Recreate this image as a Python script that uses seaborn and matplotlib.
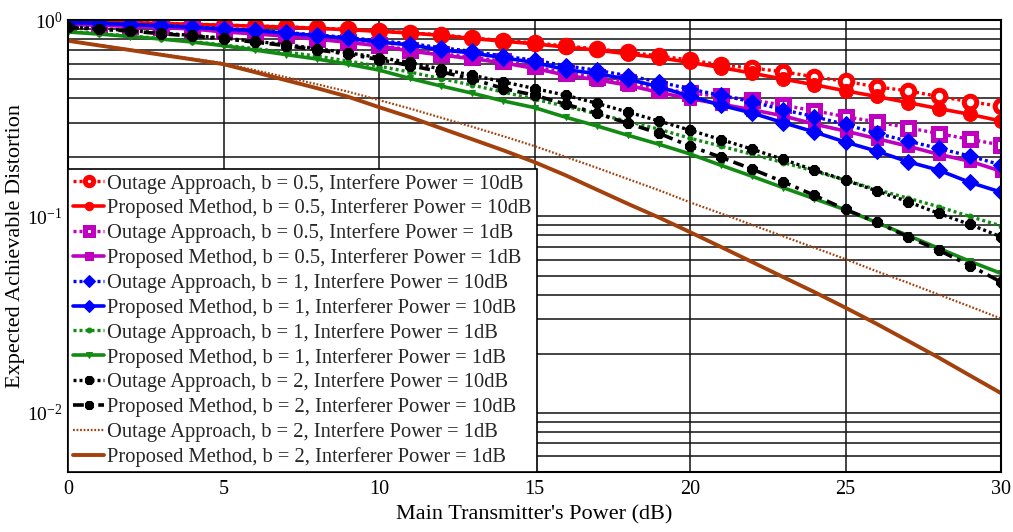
import numpy as np
import pandas as pd
import matplotlib
matplotlib.use("Agg")
import matplotlib.pyplot as plt
import seaborn as sns
from matplotlib.ticker import LogLocator, NullFormatter, FixedLocator

# ---------------- data ----------------
power_db = list(range(0, 31))

red_outage = [0.993, 0.983, 0.973, 0.963, 0.953, 0.943, 0.933, 0.923, 0.910, 0.895, 0.879,
              0.861, 0.840, 0.810, 0.786, 0.765, 0.737, 0.713, 0.685, 0.657, 0.625,
              0.591, 0.569, 0.545, 0.514, 0.487, 0.457, 0.436, 0.408, 0.384, 0.363]
red_proposed = [0.990, 0.980, 0.970, 0.960, 0.950, 0.940, 0.930, 0.920, 0.907, 0.892, 0.876,
                0.858, 0.835, 0.805, 0.780, 0.756, 0.728, 0.703, 0.672, 0.643, 0.608,
                0.573, 0.536, 0.500, 0.468, 0.436, 0.408, 0.380, 0.354, 0.331, 0.306]
mag_outage = [0.953, 0.943, 0.931, 0.918, 0.904, 0.875, 0.855, 0.834, 0.805, 0.777, 0.746,
              0.704, 0.673, 0.646, 0.617, 0.580, 0.538, 0.511, 0.482, 0.448, 0.425,
              0.408, 0.392, 0.368, 0.345, 0.322, 0.303, 0.283, 0.264, 0.247, 0.231]
mag_proposed = [0.950, 0.940, 0.928, 0.915, 0.900, 0.870, 0.850, 0.828, 0.798, 0.770, 0.738,
                0.695, 0.663, 0.635, 0.605, 0.567, 0.524, 0.496, 0.466, 0.428, 0.398,
                0.373, 0.349, 0.325, 0.295, 0.272, 0.249, 0.228, 0.207, 0.191, 0.170]
blue_outage = [0.972, 0.964, 0.951, 0.938, 0.922, 0.905, 0.887, 0.864, 0.839, 0.815, 0.784,
               0.758, 0.723, 0.692, 0.655, 0.624, 0.585, 0.555, 0.521, 0.484, 0.445,
               0.414, 0.383, 0.349, 0.322, 0.294, 0.265, 0.242, 0.222, 0.203, 0.183]
blue_proposed = [0.970, 0.962, 0.948, 0.935, 0.918, 0.900, 0.882, 0.858, 0.832, 0.807, 0.772,
                 0.747, 0.704, 0.679, 0.642, 0.608, 0.559, 0.533, 0.500, 0.457, 0.409,
                 0.368, 0.336, 0.300, 0.269, 0.239, 0.215, 0.190, 0.172, 0.149, 0.133]
green_outage = [0.874, 0.853, 0.829, 0.804, 0.777, 0.746, 0.715, 0.687, 0.655, 0.618, 0.582,
                0.543, 0.503, 0.466, 0.430, 0.395, 0.364, 0.333, 0.305, 0.278, 0.250,
                0.228, 0.207, 0.188, 0.170, 0.153, 0.137, 0.124, 0.112, 0.100, 0.0895]
green_proposed = [0.869, 0.848, 0.824, 0.800, 0.772, 0.740, 0.703, 0.667, 0.633, 0.596, 0.556,
                  0.504, 0.461, 0.424, 0.387, 0.358, 0.320, 0.289, 0.259, 0.233, 0.208,
                  0.182, 0.160, 0.140, 0.123, 0.108, 0.0932, 0.0801, 0.0688, 0.0591, 0.0513]
black_outage = [0.921, 0.903, 0.884, 0.858, 0.834, 0.809, 0.779, 0.750, 0.715, 0.681, 0.644,
                0.608, 0.562, 0.524, 0.484, 0.448, 0.414, 0.377, 0.340, 0.306, 0.275,
                0.246, 0.220, 0.195, 0.172, 0.153, 0.135, 0.119, 0.1036, 0.0910, 0.0788]
black_proposed = [0.916, 0.897, 0.879, 0.851, 0.829, 0.803, 0.772, 0.741, 0.705, 0.671, 0.629,
                  0.586, 0.545, 0.500, 0.448, 0.414, 0.373, 0.335, 0.298, 0.265, 0.228,
                  0.200, 0.174, 0.150, 0.128, 0.1086, 0.0935, 0.0788, 0.0673, 0.0562, 0.0464]
brown_outage = [0.786, 0.746, 0.707, 0.671, 0.636, 0.603, 0.556, 0.512, 0.471, 0.432, 0.391,
                0.354, 0.318, 0.286, 0.256, 0.228, 0.201, 0.177, 0.155, 0.136, 0.118,
                0.1035, 0.0906, 0.0792, 0.0693, 0.0606, 0.0526, 0.0460, 0.0400, 0.0348, 0.0302]
brown_proposed = [0.784, 0.742, 0.703, 0.665, 0.630, 0.596, 0.543, 0.494, 0.450, 0.407, 0.360,
                  0.320, 0.281, 0.247, 0.217, 0.189, 0.162, 0.137, 0.116, 0.0988, 0.0832,
                  0.0699, 0.0586, 0.0491, 0.0412, 0.0343, 0.0284, 0.0233, 0.0191, 0.0155, 0.0126]

labels = [
    "Outage Approach, b = 0.5, Interfere Power = 10dB",
    "Proposed Method, b = 0.5, Interferer Power = 10dB",
    "Outage Approach, b = 0.5, Interfere Power = 1dB",
    "Proposed Method, b = 0.5, Interferer Power = 1dB",
    "Outage Approach, b = 1, Interfere Power = 10dB",
    "Proposed Method, b = 1, Interferer Power = 10dB",
    "Outage Approach, b = 1, Interfere Power = 1dB",
    "Proposed Method, b = 1, Interferer Power = 1dB",
    "Outage Approach, b = 2, Interfere Power = 10dB",
    "Proposed Method, b = 2, Interferer Power = 10dB",
    "Outage Approach, b = 2, Interfere Power = 1dB",
    "Proposed Method, b = 2, Interferer Power = 1dB",
]
series = [red_outage, red_proposed, mag_outage, mag_proposed, blue_outage, blue_proposed,
          green_outage, green_proposed, black_outage, black_proposed, brown_outage, brown_proposed]

x_ticks = [0, 5, 10, 15, 20, 25, 30]

# ---------------- styles ----------------
RED = "#FF0000"
MAG = "#BF00BF"
BLUE = "#0000FF"
GREEN = "#138A13"
BLACK = "#000000"
BROWN = "#A3400C"
DOT = (0, (0.9, 0.9))

styles = [
    dict(color=RED, linestyle=DOT, lw=2.4, marker="o", ms=9, mfc="white", mec=RED, mew=3.6),
    dict(color=RED, linestyle="-", lw=2.6, marker="o", ms=10, mfc=RED, mec=RED),
    dict(color=MAG, linestyle=DOT, lw=2.4, marker="s", ms=9, mfc="white", mec=MAG, mew=3.6),
    dict(color=MAG, linestyle="-", lw=2.6, marker="s", ms=9, mfc=MAG, mec=MAG),
    dict(color=BLUE, linestyle=DOT, lw=2.4, marker="D", ms=8, mfc=BLUE, mec=BLUE),
    dict(color=BLUE, linestyle="-", lw=2.6, marker="D", ms=8.5, mfc=BLUE, mec=BLUE),
    dict(color=GREEN, linestyle=DOT, lw=2.4, marker="o", ms=3.5, mfc=GREEN, mec=GREEN),
    dict(color=GREEN, linestyle="-", lw=2.6, marker="v", ms=4, mfc=GREEN, mec=GREEN),
    dict(color=BLACK, linestyle=DOT, lw=2.4, marker="8", ms=8.5, mfc=BLACK, mec=BLACK),
    dict(color=BLACK, linestyle=(0, (3, 1.5, 1, 1.5)), lw=2.6, marker="8", ms=8.5, mfc=BLACK, mec=BLACK),
    dict(color=BROWN, linestyle=(0, (0.8, 0.8)), lw=1.6, marker=None),
    dict(color=BROWN, linestyle="-", lw=2.8, marker=None),
]

# ---------------- figure ----------------
sns.set_theme(style="white")
plt.rcParams["font.family"] = ["Liberation Serif", "DejaVu Serif"]
plt.rcParams["mathtext.fontset"] = "custom"
plt.rcParams["mathtext.rm"] = "Liberation Serif"
plt.rcParams["mathtext.it"] = "Liberation Serif:italic"

fig = plt.figure(figsize=(10.13, 5.32), dpi=100)
ax = fig.add_axes([68 / 1013, 1 - 472 / 532, (1001 - 68) / 1013, (472 - 20) / 532])

for vals, lab, st in zip(series, labels, styles):
    df = pd.DataFrame({"x": power_db, "y": vals})
    sns.lineplot(data=df, x="x", y="y", ax=ax, label=lab, **st)

ax.set_yscale("log")
ax.set_xlim(0, 30)
ax.set_ylim(0.005, 1)
ax.xaxis.set_major_locator(FixedLocator(x_ticks))
ax.yaxis.set_major_locator(LogLocator(base=10, numticks=10))
ax.yaxis.set_minor_locator(LogLocator(base=10, subs=np.arange(2, 10), numticks=20))
ax.yaxis.set_minor_formatter(NullFormatter())

ax.set_axisbelow(True)
ax.grid(True, which="major", axis="x", color="#111111", lw=1.1, linestyle="-")
ax.grid(True, which="both", axis="y", color="#111111", lw=1.1, linestyle="-")

for sp in ax.spines.values():
    sp.set_color("black")
    sp.set_linewidth(1.5)

ax.tick_params(axis="x", which="both", direction="in", labelsize=14.5, colors="black",
               length=0, pad=6)
ax.tick_params(axis="y", which="both", direction="in", labelsize=14, colors="black",
               length=0, pad=4)
ax.set_xlabel("Main Transmitter's Power (dB)", fontsize=16, color="black", labelpad=4)
ax.set_ylabel("Expected Achievable Distortion", fontsize=16, color="black")
ax.yaxis.set_label_coords(-0.046, 0.5)

leg = ax.legend(loc="lower left", bbox_to_anchor=(0, 0), borderaxespad=0, fontsize=14.8,
                frameon=True, fancybox=False, framealpha=1, edgecolor="black",
                handlelength=1.5, handletextpad=0.15, labelspacing=0.24, borderpad=0.25)
leg.get_frame().set_linewidth(1.2)
for h in leg.get_lines():
    h.set_markersize(min(h.get_markersize(), 6))

fig.savefig("out.png", dpi=100)
